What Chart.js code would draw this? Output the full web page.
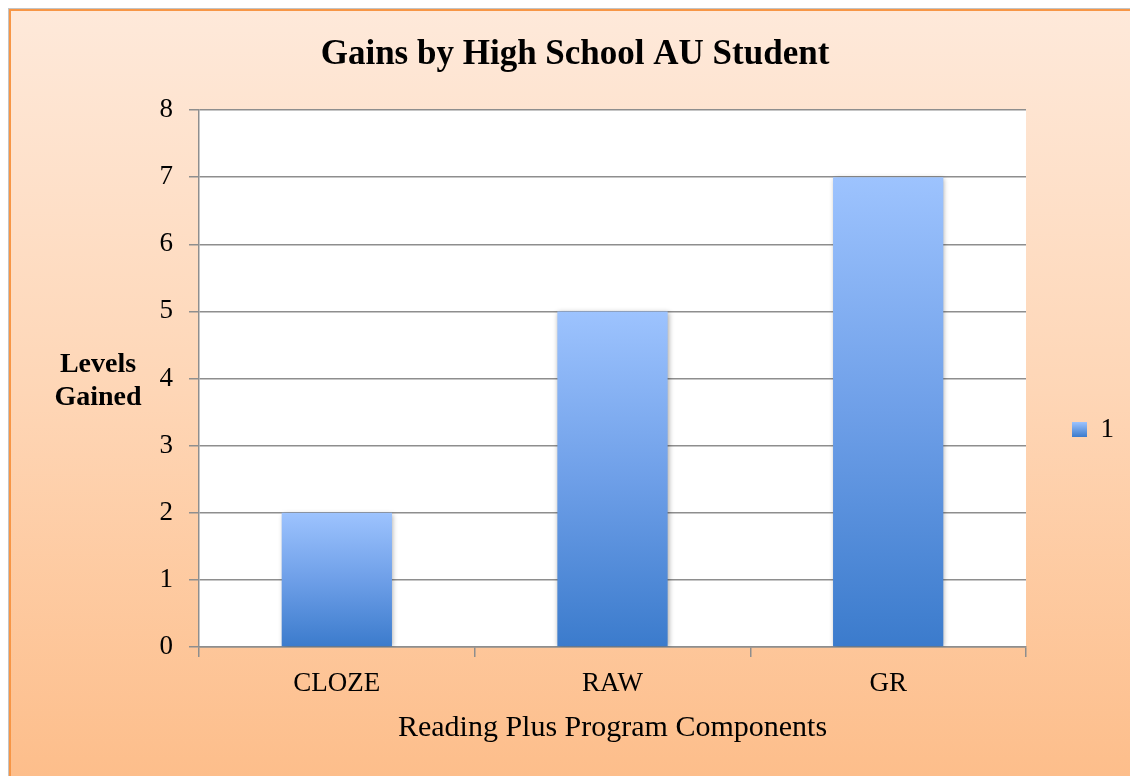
<!DOCTYPE html>
<html>
<head>
<meta charset="utf-8">
<script src="https://cdn.jsdelivr.net/npm/chart.js@4/dist/chart.umd.min.js"></script>
<style>
  html, body { margin: 0; padding: 0; background: #fff; }
  #wrap { width: 1130px; height: 776px; position: relative; }
</style>
</head>
<body>
<div id="wrap"><canvas id="chart"></canvas></div>
<script>
const categories = ['CLOZE', 'RAW', 'GR'];
const gains = [2, 5, 7];
const seriesName = '1';
const yTicks = [0, 1, 2, 3, 4, 5, 6, 7, 8];

const serif = '"Liberation Serif", "Times New Roman", serif';
const gridGray = '#8e8e8e';

// peach frame + white plot area + horizontal y title
const framePlugin = {
  id: 'frame',
  beforeDraw(chart) {
    const c = chart.ctx;
    const {width, height, chartArea} = chart;
    c.save();
    c.fillStyle = '#fff';
    c.fillRect(0, 0, width, height);
    const g = c.createLinearGradient(0, 9, 0, height);
    g.addColorStop(0, '#FEE9DA');
    g.addColorStop(0.5, '#FED6B6');
    g.addColorStop(1, '#FDBE8B');
    c.fillStyle = '#c4c4c4';
    c.fillRect(8, 8, width, height);
    c.fillStyle = '#F79646';
    c.fillRect(9, 9, width, height);
    c.fillStyle = g;
    c.fillRect(11, 11, width, height);
    c.fillStyle = '#fff';
    c.fillRect(chartArea.left, chartArea.top, chartArea.right - chartArea.left, chartArea.bottom - chartArea.top);
    c.restore();
  },
  afterDraw(chart) {
    const c = chart.ctx;
    c.save();
    c.font = 'bold 28px ' + serif;
    c.fillStyle = '#000';
    c.textAlign = 'center';
    c.textBaseline = 'alphabetic';
    c.fillText('Levels', 98, 372);
    c.fillText('Gained', 98, 405);
    c.restore();
  }
};

const shadowPlugin = {
  id: 'barShadow',
  beforeDatasetsDraw(chart) {
    const c = chart.ctx;
    c.save();
    c.shadowColor = 'rgba(0,0,0,0.35)';
    c.shadowBlur = 5;
    c.shadowOffsetX = 1;
    c.shadowOffsetY = 1;
  },
  afterDatasetsDraw(chart) {
    chart.ctx.restore();
  }
};

function barFill(ctx) {
  const chart = ctx.chart;
  if (!chart.chartArea || ctx.type !== 'data') return '#6E9FE8';
  const y = chart.scales.y;
  const top = y.getPixelForValue(ctx.raw);
  const base = y.getPixelForValue(0);
  const g = chart.ctx.createLinearGradient(0, top, 0, base);
  g.addColorStop(0, '#9DC3FE');
  g.addColorStop(0.5, '#6E9FE8');
  g.addColorStop(1, '#3B7BCC');
  return g;
}

const ctx = document.getElementById('chart');

const data = {
  labels: categories,
  datasets: [
    {
      label: seriesName,
      data: gains,
      backgroundColor: barFill,
      borderWidth: 0,
      categoryPercentage: 1,
      barPercentage: 0.4
    }
  ]
};

const config = {
  type: 'bar',
  data: data,
  plugins: [framePlugin, shadowPlugin],
  options: {
    responsive: true,
    maintainAspectRatio: false,
    animation: false,
    layout: { padding: { left: 26, right: 6, top: 0, bottom: 0 } },
    plugins: {
      title: {
        display: true,
        text: 'Gains by High School AU Student',
        color: '#000',
        font: { family: serif, size: 35, weight: 'bold' },
        padding: { top: 34, bottom: 34 }
      },
      legend: {
        position: 'right',
        title: { display: true, text: ' ', font: { size: 10 }, padding: { top: 0, bottom: 71 } },
        labels: {
          color: '#000',
          font: { family: serif, size: 27 },
          boxWidth: 15,
          boxHeight: 15,
          padding: 46,
          generateLabels(chart) {
            const items = Chart.defaults.plugins.legend.labels.generateLabels(chart);
            items.forEach(it => {
              const g = chart.ctx.createLinearGradient(0, 422, 0, 437);
              g.addColorStop(0, '#9DC3FE');
              g.addColorStop(1, '#3B7BCC');
              it.fillStyle = g;
              it.strokeStyle = 'rgba(0,0,0,0)';
              it.lineWidth = 0;
            });
            return items;
          }
        }
      },
      tooltip: { enabled: false }
    },
    scales: {
      x: {
        afterFit(scale) { scale.height = 129; },
        grid: { drawOnChartArea: false, drawTicks: true, tickLength: 10, color: gridGray, lineWidth: 1.5 },
        border: { color: gridGray, width: 1.5 },
        ticks: { color: '#000', font: { family: serif, size: 27 }, padding: 11 },
        title: {
          display: true,
          text: 'Reading Plus Program Components',
          color: '#000',
          font: { family: serif, size: 30 },
          padding: { top: 0, bottom: 30 }
        }
      },
      y: {
        min: 0,
        max: 8,
        afterFit(scale) { scale.width = 199 - 26; },
        afterBuildTicks(scale) { scale.ticks = yTicks.map(v => ({ value: v })); },
        grid: { color: gridGray, lineWidth: 1.5, tickLength: 10 },
        border: { color: gridGray, width: 1.5 },
        ticks: { color: '#000', font: { family: serif, size: 27 }, padding: 16 }
      }
    }
  }
};

const myChart = new Chart(ctx, config);
</script>
</body>
</html>
